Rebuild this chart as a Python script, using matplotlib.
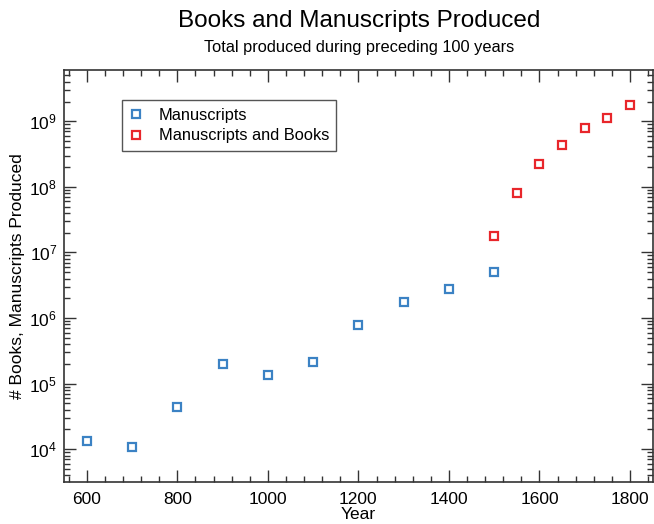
import matplotlib
matplotlib.use("Agg")
import matplotlib.pyplot as plt
from matplotlib.ticker import MultipleLocator, FixedLocator, NullFormatter, LogFormatterSciNotation

plt.rcParams['font.family'] = ['Liberation Sans', 'DejaVu Sans']
plt.rcParams['mathtext.fontset'] = 'custom'
plt.rcParams['mathtext.rm'] = 'Liberation Sans'

# Manuscripts only, totals for the preceding century
ms_years = [600, 700, 800, 900, 1000, 1100, 1200, 1300, 1400, 1500]
ms_counts = [13552, 10639, 43702, 201742, 135637, 212046, 768721, 1761000, 2746951, 4999161]

# Manuscripts plus printed books
mb_years = [1500, 1550, 1600, 1650, 1700, 1750, 1800]
mb_counts = [1.76e7, 8.1e7, 2.2e8, 4.3e8, 7.8e8, 1.13e9, 1.8e9]

x_ticks = [600, 800, 1000, 1200, 1400, 1600, 1800]
y_ticks = [1e4, 1e5, 1e6, 1e7, 1e8, 1e9]

BLUE = '#3b82c4'
RED = '#e8262b'
AXIS = '#333333'

fig = plt.figure(figsize=(6.54, 5.24), dpi=100)
ax = fig.add_axes([0.098, 0.080, 0.900, 0.786])

ax.plot(ms_years, ms_counts, 's', ls='none', ms=6, mew=1.6,
        mfc='white', mec=BLUE, label='Manuscripts')
ax.plot(mb_years, mb_counts, 's', ls='none', ms=6, mew=1.6,
        mfc='white', mec=RED, label='Manuscripts and Books')

ax.set_yscale('log')
ax.set_xlim(550, 1850)
ax.set_ylim(3.15e3, 6e9)

ax.set_xticks(x_ticks)
ax.xaxis.set_minor_locator(MultipleLocator(40))
ax.yaxis.set_major_locator(FixedLocator(y_ticks))
ax.yaxis.set_major_formatter(LogFormatterSciNotation())
# minor log ticks 2..9 in each decade that falls inside the range
minors = [m * 10.0 ** e for e in range(3, 10) for m in range(2, 10)
          if 3.15e3 < m * 10.0 ** e < 6e9]
ax.yaxis.set_minor_locator(FixedLocator(minors))
ax.yaxis.set_minor_formatter(NullFormatter())

ax.tick_params(which='both', direction='in', top=True, right=True,
               color=AXIS, labelsize=12.5, labelcolor='black')
ax.tick_params(which='major', length=8.5, width=1.0)
ax.tick_params(which='minor', length=4.3, width=1.0)
ax.tick_params(axis='x', which='major', pad=7)
ax.tick_params(axis='y', which='major', pad=5)
for s in ax.spines.values():
    s.set_color(AXIS)
    s.set_linewidth(1.2)

ax.set_xlabel('Year', fontsize=12.5, labelpad=0)
ax.set_ylabel('# Books, Manuscripts Produced', fontsize=12.5, labelpad=3)

fig.text(0.549, 0.960, 'Books and Manuscripts Produced',
         ha='center', va='center', fontsize=17.5)
fig.text(0.549, 0.909, 'Total produced during preceding 100 years',
         ha='center', va='center', fontsize=11.8)

leg = ax.legend(loc='upper left', bbox_to_anchor=(0.098, 0.927),
                borderaxespad=0, fontsize=11.8, handlelength=0.8,
                handletextpad=1.0, borderpad=0.45, labelspacing=0.35,
                fancybox=False, framealpha=1, edgecolor='#555555')
leg.get_frame().set_linewidth(1.0)

fig.savefig('out.png', dpi=100)
